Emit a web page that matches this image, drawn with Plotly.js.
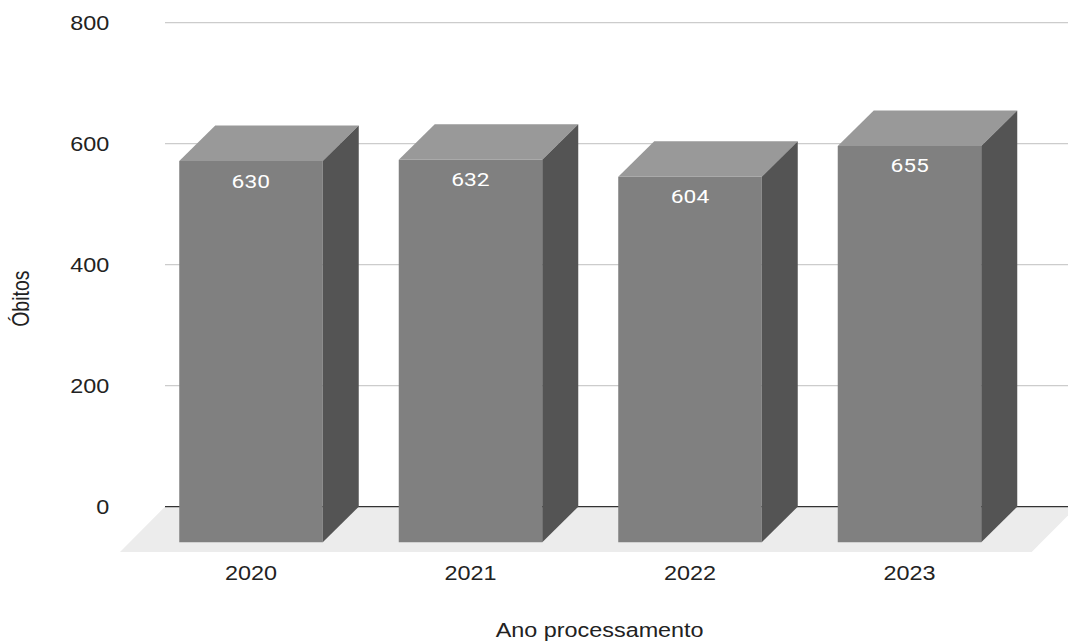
<!DOCTYPE html>
<html>
<head>
<meta charset="utf-8">
<script src="https://cdn.plot.ly/plotly-3.0.1.min.js"></script>
<style>
  html, body { margin: 0; padding: 0; background: #ffffff; overflow: hidden; }
  /* the chart is laid out narrower and widened horizontally */
  #chart { position: absolute; left: 0; top: 0; transform: scaleX(1.2); transform-origin: 0 0; }
</style>
</head>
<body>
<div id="chart"></div>
<script>
// Data
const years = ['2020', '2021', '2022', '2023'];
const obitos = [630, 632, 604, 655];
const yTicks = [0, 200, 400, 600, 800];

// Geometry of the pseudo-3D bars (axis units)
const X_MIN = -0.5968, X_MAX = 3.7221;
const Y_MIN = -74.9, Y_MAX = 821;
const BAR_W = 0.6538;          // front face width (category units)
const BAR_DX = 0.164;          // depth offset, x
const BAR_DY = 58.7;           // depth offset, y
const FLOOR_DX = 0.205;
const FLOOR_DY = 74.9;
const FLOOR_LEFT = X_MIN, FLOOR_RIGHT = 3.5567;

const FONT = 'Arial, "Liberation Sans", sans-serif';
const idx = years.map((_, i) => i);

const shapes = [];

// floor plane
shapes.push({
  type: 'path', layer: 'below', xref: 'x', yref: 'y',
  path: `M ${FLOOR_LEFT},${-FLOOR_DY} L ${FLOOR_RIGHT},${-FLOOR_DY} L ${FLOOR_RIGHT + FLOOR_DX},0 L ${FLOOR_LEFT + FLOOR_DX},0 Z`,
  fillcolor: '#ececec', line: { width: 0 }
});

// gridlines on the back wall
yTicks.forEach(v => {
  shapes.push({
    type: 'line', layer: 'below', xref: 'x', yref: 'y',
    x0: FLOOR_LEFT + FLOOR_DX, x1: FLOOR_RIGHT + FLOOR_DX + 1, y0: v, y1: v,
    line: { color: v === 0 ? '#333333' : '#cccccc', width: v === 0 ? 1.3 : 1.2 }
  });
});

// top and side faces of each bar
idx.forEach(i => {
  const v = obitos[i];
  const l = i - BAR_W / 2, r = i + BAR_W / 2;
  shapes.push({
    type: 'path', layer: 'above', xref: 'x', yref: 'y',
    path: `M ${l},${v - BAR_DY} L ${r},${v - BAR_DY} L ${r + BAR_DX},${v} L ${l + BAR_DX},${v} Z`,
    fillcolor: '#999999', line: { width: 0 }
  });
  shapes.push({
    type: 'path', layer: 'above', xref: 'x', yref: 'y',
    path: `M ${r},${v - BAR_DY} L ${r + BAR_DX},${v} L ${r + BAR_DX},0 L ${r},${-BAR_DY} Z`,
    fillcolor: '#545454', line: { width: 0 }
  });
});

// value labels on the front faces
const annotations = idx.map(i => ({
  x: i, y: obitos[i] - BAR_DY, xref: 'x', yref: 'y',
  text: String(obitos[i]), showarrow: false,
  yanchor: 'middle', yshift: -20,
  font: { family: 'Roboto, Arial, sans-serif', size: 19, color: '#ffffff' }
}));

// axis titles
annotations.push({
  xref: 'paper', yref: 'paper', x: 0.5063, y: -0.1434,
  text: 'Ano processamento', showarrow: false,
  xanchor: 'center', yanchor: 'middle',
  font: { family: FONT, size: 19.5, color: '#222222' }
});
annotations.push({
  xref: 'paper', yref: 'paper', x: -0.1049, y: 0.4673,
  text: 'Óbitos', showarrow: false, textangle: -90,
  xanchor: 'center', yanchor: 'middle',
  font: { family: FONT, size: 19.5, color: '#222222' }
});

const trace = {
  type: 'bar',
  x: idx,
  y: obitos,
  base: obitos.map(() => -BAR_DY),
  width: BAR_W,
  marker: { color: '#808080', line: { width: 0 } },
  hoverinfo: 'skip',
  showlegend: false
};

const layout = {
  width: 890, height: 643,
  margin: { l: 100, r: 0, t: 10, b: 91 },
  paper_bgcolor: '#ffffff', plot_bgcolor: 'rgba(0,0,0,0)',
  font: { family: FONT, size: 19.5, color: '#222222' },
  showlegend: false,
  xaxis: {
    range: [X_MIN, X_MAX], tickvals: idx, ticktext: years,
    showgrid: false, zeroline: false, showline: false, ticks: '',
    ticklabelstandoff: 8,
    tickfont: { family: FONT, size: 19.5, color: '#222222' }
  },
  yaxis: {
    range: [Y_MIN, Y_MAX], tickvals: yTicks, ticktext: yTicks.map(String),
    showgrid: false, zeroline: false, showline: false, ticks: '',
    ticklabelstandoff: 8,
    tickfont: { family: FONT, size: 19.5, color: '#222222' }
  },
  shapes: shapes,
  annotations: annotations
};

Plotly.newPlot('chart', [trace], layout, { staticPlot: true, displayModeBar: false });
</script>
</body>
</html>
